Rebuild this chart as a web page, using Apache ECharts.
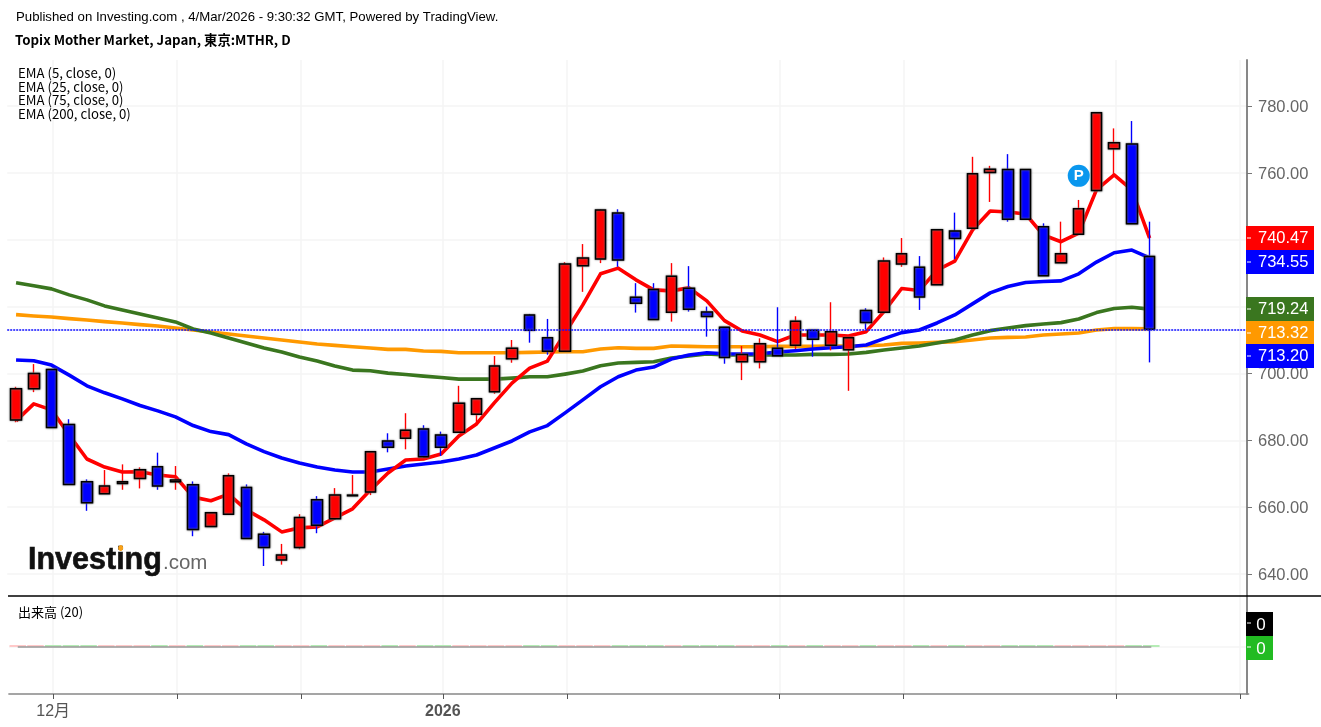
<!DOCTYPE html>
<html>
<head>
<meta charset="utf-8">
<title>Topix Mother Market</title>
<script src="https://cdn.jsdelivr.net/npm/echarts@6/dist/echarts.min.js"></script>
<style>
html,body{margin:0;padding:0;background:#fff;}
#chart{width:1321px;height:727px;}
</style>
</head>
<body>
<div id="chart"></div>
<script>
var opens = [686.1,695.4,701.2,684.7,667.6,664.0,667.1,668.6,672.1,667.6,666.7,654.2,657.9,665.9,651.9,644.2,647.9,662.2,656.5,663.4,664.5,679.8,680.6,683.4,681.6,682.4,687.8,694.5,704.4,717.5,710.7,706.6,732.2,734.2,748.0,722.8,725.1,718.3,725.5,718.4,713.8,703.5,703.5,707.5,708.4,712.9,708.4,707.1,718.8,718.3,732.7,731.8,726.5,742.6,743.4,760.1,761.0,761.0,743.9,733.1,741.6,754.7,767.2,768.6,735.0];
var closes = [695.4,700.0,683.8,666.8,661.3,666.3,667.6,671.2,666.3,668.1,653.3,658.3,669.4,650.6,647.9,645.7,656.9,654.6,663.6,663.6,676.6,677.9,683.0,675.1,677.9,691.1,692.4,702.2,707.5,712.9,706.6,732.7,734.5,748.9,733.9,721.0,716.1,729.1,719.2,717.0,704.8,705.7,708.9,705.3,715.6,710.2,712.5,710.7,715.2,733.6,735.8,722.9,743.0,740.4,759.7,761.1,746.1,746.1,729.2,735.8,749.3,778.0,769.0,744.8,713.2];
var lows = [685.4,694.4,683.8,666.8,658.9,664.0,665.2,665.6,665.2,665.2,651.3,654.2,657.9,650.6,642.4,642.8,647.4,652.2,656.2,663.4,663.6,676.4,677.3,675.1,675.3,682.4,685.1,693.9,703.2,709.2,705.6,706.6,724.4,733.0,731.9,718.2,716.1,715.5,718.5,711.0,702.9,698.0,701.5,705.3,707.3,705.0,706.9,694.8,713.2,718.3,731.9,719.0,726.5,734.2,743.4,751.3,745.4,746.1,729.2,733.1,741.6,754.7,759.4,744.8,703.3];
var highs = [696.0,702.8,701.2,686.3,668.3,671.1,672.8,671.9,676.3,672.3,667.7,658.3,670.1,666.8,652.6,649.0,657.9,663.3,665.7,669.6,676.6,682.1,688.1,684.5,682.6,696.3,692.4,705.2,710.0,717.8,716.3,733.3,738.7,749.1,749.1,727.0,727.0,733.0,732.1,720.0,713.8,708.2,710.5,719.8,717.1,712.9,721.3,710.7,719.5,734.7,740.5,735.1,743.0,748.1,764.8,762.1,765.6,761.0,744.9,745.4,751.9,778.0,773.3,775.5,745.4];

var ema5 = [685.8,690.9,689.1,681.6,674.4,672.0,670.5,670.6,669.6,669.1,663.0,661.9,663.9,659.2,656.2,652.6,653.8,654.1,656.8,659.5,665.1,670.2,674.1,674.4,675.9,681.3,684.9,691.2,697.1,701.6,703.7,712.1,720.5,729.8,731.5,728.0,725.0,724.7,725.6,721.7,715.8,712.7,711.5,709.5,711.5,711.5,711.5,711.2,712.5,718.5,725.4,724.8,730.9,733.6,742.9,748.6,748.3,747.7,741.4,739.4,742.0,754.9,759.4,754.9,740.47];
var ema25 = [704.0,703.8,702.5,699.5,696.3,694.2,692.4,690.4,688.8,687.0,684.4,682.6,681.7,678.9,676.6,674.7,673.2,672.0,671.1,670.5,670.5,671.4,672.3,672.9,673.5,674.4,675.6,677.7,679.8,682.5,684.4,688.2,692.1,696.0,699.0,701.0,701.9,704.3,705.5,706.2,705.9,705.8,705.9,706.4,706.8,707.3,707.7,708.0,708.5,710.4,712.2,713.0,715.1,717.5,720.8,724.1,726.0,727.2,727.5,727.7,729.8,733.3,736.1,736.9,734.55];
var ema75 = [727.1,726.2,725.3,723.5,722.0,720.2,719.0,717.8,716.6,715.4,713.3,712.1,710.6,709.1,707.6,706.4,704.9,703.7,702.2,701.0,700.8,700.1,699.7,699.2,698.8,698.3,698.3,698.3,698.6,699.0,699.0,699.8,700.7,702.3,703.1,703.3,703.5,704.6,705.2,705.8,705.5,705.5,705.5,705.5,705.5,705.7,705.7,705.8,706.3,707.0,707.6,708.2,709.1,710.0,711.5,712.8,713.6,714.3,714.8,715.2,716.3,718.2,719.4,719.8,719.24];
var ema200 = [717.6,717.2,716.9,716.4,716.0,715.5,715.1,714.6,714.2,713.6,713.0,712.4,711.8,711.2,710.6,710.0,709.4,708.8,708.4,708.0,707.6,707.2,707.2,706.7,706.6,706.2,706.2,706.2,706.2,706.3,706.4,706.5,706.5,707.3,707.7,707.5,707.5,708.2,708.1,708.0,708.0,708.0,708.0,708.1,708.1,708.1,708.2,708.2,708.3,708.5,709.0,709.1,709.3,709.5,710.0,710.6,710.8,710.9,711.5,711.8,712.1,713.0,713.4,713.4,713.32];
// 出来高 is reported as zero on every day
var volumes = [0,0,0,0,0,0,0,0,0,0,0,0,0,0,0,0,0,0,0,0,0,0,0,0,0,0,0,0,0,0,0,0,0,0,0,0,0,0,0,0,0,0,0,0,0,0,0,0,0,0,0,0,0,0,0,0,0,0,0,0,0,0,0,0,0];

var priceTicks = [640,660,680,700,720,740,760,780];
var xTickIndex = [2,9,16,24,31,43,50,62,69];
var xTickText = ['12月','','','2026','','','','',''];
var lastPrice = 713.2;
var pMark = [[60,759.1]];

var badges = [
	{text:'740.47',y:226,color:'#ff0000'},
	{text:'734.55',y:250,color:'#0000ff'},
	{text:'719.24',y:297,color:'#3a761f'},
	{text:'713.32',y:321,color:'#ff9900'},
	{text:'713.20',y:344,color:'#0000ff'}
];
var legends = ['EMA (5, close, 0)','EMA (25, close, 0)','EMA (75, close, 0)','EMA (200, close, 0)'];

var categories = [];
for(var i=0;i<70;i++){
	categories.push(String(i));
}

var wickData = [];
var bodyData = [];
var volumeBars = [];
var volumeMa = [];
for(var i=0;i<opens.length;i++){
	wickData.push([opens[i],closes[i],lows[i],highs[i]]);
	bodyData.push([opens[i],closes[i],Math.min(opens[i],closes[i]),Math.max(opens[i],closes[i])]);
	volumeBars.push({
		value: volumes[i],
		itemStyle: {color: closes[i]>=opens[i] ? '#ffc9c9' : '#b5ecb5'}
	});
	volumeMa.push(volumes[i]);
}

var isXTick = function(index) {
	return xTickIndex.indexOf(index)>=0;
}

var emaLine = function(name,data,color) {
	return {
		name: name,
		type: 'line',
		data: data,
		xAxisIndex: 0,
		yAxisIndex: 0,
		showSymbol: false,
		symbol: 'none',
		z: 2,
		lineStyle: {color: color, width: 3.6, cap: 'butt', join: 'round'}
	};
}

var gridColor = '#f5f5f5';
var textFont = '"Noto Sans CJK JP","Noto Sans",sans-serif';
var graphics = [
	{type:'text',x:16,y:17,z:20,style:{text:'Published on Investing.com , 4/Mar/2026 - 9:30:32 GMT, Powered by TradingView.',fontFamily:'"Liberation Sans"',fontSize:13.2,fill:'#000',verticalAlign:'middle'}},
	{type:'text',x:15,y:40,z:20,style:{text:'Topix Mother Market, Japan, 東京:MTHR, D',fontFamily:textFont,fontWeight:'bold',fontSize:13.3,fill:'#000',verticalAlign:'middle'}},
	{type:'text',x:18,y:612,z:20,style:{text:'出来高 (20)',fontFamily:textFont,fontSize:13,fill:'#000',verticalAlign:'middle'}},
	// pane divider
	{type:'line',shape:{x1:8,y1:596,x2:1321,y2:596},style:{stroke:'#000',lineWidth:1.5},z:20},
	// logo
	{type:'text',x:28,y:545,z:20,style:{text:'Investing',fontFamily:'"Liberation Sans"',fontWeight:'bold',fontSize:30.5,fill:'#111',stroke:'#111',lineWidth:0.6,shadowBlur:2,shadowColor:'#999'}},
	{type:'text',x:163,y:553,z:20,style:{text:'.com',fontFamily:'"Liberation Sans"',fontSize:20.5,fill:'#666'}},
	{type:'ellipse',z:21,shape:{cx:120.7,cy:548,rx:2.5,ry:3},style:{fill:'#f7a11a'}},
	// volume badges
	{type:'rect',shape:{x:1246,y:612,width:27,height:24},style:{fill:'#000'},z:20},
	{type:'rect',shape:{x:1246,y:636,width:27,height:24},style:{fill:'#22bb22'},z:20},
	{type:'text',x:1261,y:625,z:21,style:{text:'0',fontFamily:'"Liberation Sans"',fontSize:17,fill:'#fff',align:'center',verticalAlign:'middle'}},
	{type:'text',x:1261,y:649,z:21,style:{text:'0',fontFamily:'"Liberation Sans"',fontSize:17,fill:'#fff',align:'center',verticalAlign:'middle'}},
	{type:'line',shape:{x1:1247,y1:623,x2:1251,y2:623},style:{stroke:'#fff',lineWidth:1},z:21},
	{type:'line',shape:{x1:1247,y1:647,x2:1251,y2:647},style:{stroke:'#fff',lineWidth:1},z:21}
];
for(var i=0;i<legends.length;i++){
	graphics.push({type:'text',x:18,y:[73,86.5,100,114][i],z:20,style:{text:legends[i],fontFamily:textFont,fontSize:13.2,fill:'#000',verticalAlign:'middle'}});
}
for(var i=0;i<badges.length;i++){
	graphics.push({type:'rect',shape:{x:1246,y:badges[i].y,width:68,height:24},style:{fill:badges[i].color},z:20});
	graphics.push({type:'text',x:1258,y:badges[i].y+12.5,z:21,style:{text:badges[i].text,fontFamily:'"Liberation Sans"',fontSize:16.5,fill:'#fff',verticalAlign:'middle'}});
	graphics.push({type:'line',shape:{x1:1247,y1:badges[i].y+12,x2:1251,y2:badges[i].y+12},style:{stroke:'#fff',lineWidth:1},z:21});
}

// dotted line at the last price, hung on a line series
var ema200Line = emaLine('EMA 200',ema200,'#ff9900');
ema200Line.markLine = {
	silent: true,
	symbol: 'none',
	label: {show: false},
	lineStyle: {color: '#1010ff', type: [2,1], width: 1.6, opacity: 1},
	data: [{yAxis: lastPrice}]
};

var myChart = echarts.init(document.getElementById('chart'));
myChart.setOption({
	animation: false,
	backgroundColor: '#fff',
	grid: [
		{left: 7.2, width: 1239.8, top: 60, height: 536},
		{left: 8.9, width: 1239.8, top: 596, height: 98},
		// only carries the vertical grid lines of the price pane, they sit a little right of the candles
		{left: 8.9, width: 1239.8, top: 60, height: 536}
	],
	xAxis: [
		{
			type: 'category',
			gridIndex: 0,
			data: categories,
			axisLine: {show: false},
			axisTick: {show: false},
			axisLabel: {show: false},
			splitLine: {show: false}
		},
		{
			type: 'category',
			gridIndex: 1,
			data: categories,
			axisLine: {show: true, onZero: false, lineStyle: {color: '#888', width: 1.5}},
			axisTick: {show: true, alignWithLabel: true, length: 5, interval: function(index) { return isXTick(index); }, lineStyle: {color: '#555'}},
			axisLabel: {
				show: true,
				interval: function(index) { return isXTick(index); },
				margin: 10,
				fontFamily: '"Liberation Sans","Noto Sans CJK JP"',
				fontSize: 16,
				color: '#555',
				formatter: function(value,index) {
					var text = xTickText[xTickIndex.indexOf(index)];
					return text=='2026' ? '{b|'+text+'}' : text;
				},
				rich: {b: {fontFamily: '"Liberation Sans"', fontSize: 16, fontWeight: 'bold', color: '#555'}}
			},
			splitLine: {show: true, alignWithLabel: true, interval: function(index) { return isXTick(index); }, lineStyle: {color: gridColor, width: 1.5}}
		},
		{
			type: 'category',
			gridIndex: 2,
			data: categories,
			axisLine: {show: false},
			axisTick: {show: false},
			axisLabel: {show: false},
			splitLine: {show: true, alignWithLabel: true, interval: function(index) { return isXTick(index); }, lineStyle: {color: gridColor, width: 1.5}}
		}
	],
	yAxis: [
		{
			type: 'value',
			gridIndex: 0,
			position: 'right',
			min: 633.42,
			max: 793.76,
			axisLine: {show: true, lineStyle: {color: '#888', width: 2}},
			axisTick: {show: true, length: 5, customValues: priceTicks, lineStyle: {color: '#777'}},
			axisLabel: {
				show: true,
				customValues: priceTicks,
				margin: 11,
				fontFamily: '"Liberation Sans"',
				fontSize: 16.5,
				color: '#666',
				formatter: function(value) { return '{v|'+value.toFixed(2)+'}'; },
				rich: {v: {fontFamily: '"Liberation Sans"', fontSize: 16.5, color: '#666', padding: [3,0,0,0]}}
			},
			splitLine: {show: true, lineStyle: {color: gridColor, width: 1.5}}
		},
		{
			type: 'value',
			gridIndex: 1,
			position: 'right',
			offset: -1.7,
			inverse: true,
			min: -51,
			max: 47,
			axisLine: {show: true, lineStyle: {color: '#888', width: 2}},
			axisTick: {show: false, customValues: [0]},
			axisLabel: {show: false, customValues: [0]},
			splitLine: {show: true, lineStyle: {color: gridColor, width: 1.5}}
		},
		{
			type: 'value',
			gridIndex: 2,
			show: false,
			min: 633.42,
			max: 793.76,
			splitLine: {show: false}
		}
	],
	series: [
		ema200Line,
		emaLine('EMA 75',ema75,'#3a761f'),
		emaLine('EMA 25',ema25,'#0000ff'),
		emaLine('EMA 5',ema5,'#ff0000'),
		{
			name: 'wick',
			type: 'candlestick',
			data: wickData,
			xAxisIndex: 0,
			yAxisIndex: 0,
			barWidth: 1,
			z: 3,
			itemStyle: {color: '#ff0000', color0: '#0000ff', borderColor: '#ff0000', borderColor0: '#0000ff', borderWidth: 1.4}
		},
		{
			name: 'body',
			type: 'candlestick',
			data: bodyData,
			xAxisIndex: 0,
			yAxisIndex: 0,
			barWidth: 11,
			z: 4,
			itemStyle: {color: '#ff0000', color0: '#0000ff', borderColor: '#000', borderColor0: '#000', borderWidth: 1.5, shadowBlur: 2, shadowColor: '#777'}
		},
		{
			name: 'P',
			type: 'scatter',
			data: pMark,
			xAxisIndex: 0,
			yAxisIndex: 0,
			symbol: 'circle',
			symbolSize: 22,
			z: 5,
			itemStyle: {color: '#0a97ee', opacity: 1},
			label: {show: true, position: 'inside', formatter: 'P', color: '#fff', fontFamily: '"Liberation Sans"', fontWeight: 'bold', fontSize: 15}
		},
		{
			name: '出来高',
			type: 'bar',
			data: volumeBars,
			xAxisIndex: 1,
			yAxisIndex: 1,
			barWidth: 16.5,
			barMinHeight: 2,
			z: 2
		},
		{
			name: '出来高 MA',
			type: 'line',
			data: volumeMa,
			xAxisIndex: 1,
			yAxisIndex: 1,
			showSymbol: false,
			symbol: 'none',
			z: 3,
			lineStyle: {color: '#999', width: 1.5}
		}
	],
	graphic: {elements: graphics}
});
</script>
</body>
</html>
